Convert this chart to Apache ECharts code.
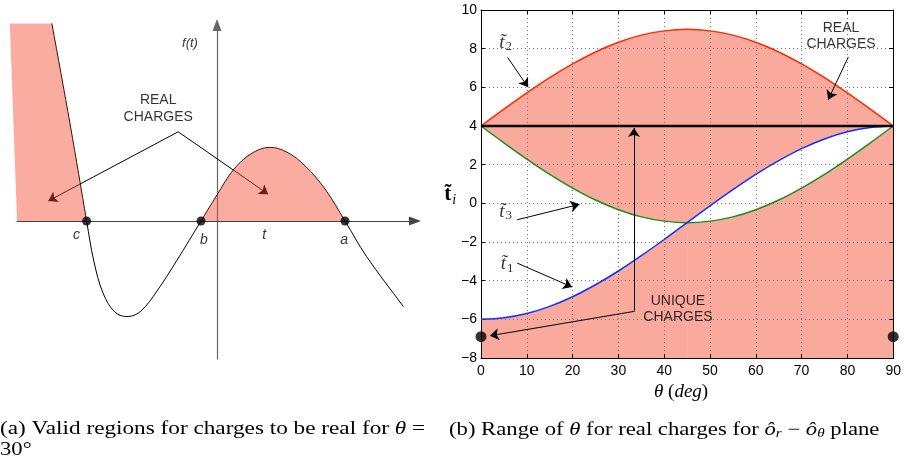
<!DOCTYPE html>
<html>
<head>
<meta charset="utf-8">
<script src="https://cdn.jsdelivr.net/npm/echarts@6/dist/echarts.min.js"></script>
<style>html,body{margin:0;padding:0;background:#fff}#c{width:904px;height:472px}</style>
</head>
<body>
<div id="c"></div>
<script>
// ---------- Panel (b) data ----------
const theta = [0, 5, 10, 15, 20, 25, 30, 35, 40, 45, 50, 55, 60, 65, 70, 75, 80, 85, 90];
const t1 = [-6.00, -5.92, -5.70, -5.33, -4.83, -4.21, -3.50, -2.71, -1.87, -1.00, -0.13, 0.71, 1.50, 2.21, 2.83, 3.33, 3.70, 3.92, 4.00];
const t2 = [4.00, 4.87, 5.71, 6.50, 7.21, 7.83, 8.33, 8.70, 8.92, 9.00, 8.92, 8.70, 8.33, 7.83, 7.21, 6.50, 5.71, 4.87, 4.00];
const t3 = [4.00, 3.13, 2.29, 1.50, 0.79, 0.17, -0.33, -0.70, -0.92, -1.00, -0.92, -0.70, -0.33, 0.17, 0.79, 1.50, 2.29, 3.13, 4.00];
const crossTheta = 45;
const uniqueLevel = 4;
const endDots = [[0, -6.9], [90, -6.9]];
const xTicks = [0, 10, 20, 30, 40, 50, 60, 70, 80, 90];
const yTicks = [-8, -6, -4, -2, 0, 2, 4, 6, 8, 10];

// ---------- Panel (a) data (schematic f(t)) ----------
const fCurve = [[-4.13, 4.94], [-3.9, 3.68], [-3.67, 2.4], [-3.46, 1.18], [-3.26, 0], [-3.08, -1.0], [-2.85, -1.8],
  [-2.55, -2.28], [-2.22, -2.39], [-1.9, -2.25], [-1.5, -1.75], [-1.0, -0.98], [-0.4, 0], [0, 0.65],
  [0.41, 1.28], [0.85, 1.68], [1.3, 1.84], [1.75, 1.72], [2.2, 1.38], [2.7, 0.8], [3.2, 0], [3.74, -0.89], [4.66, -2.14]];
const roots = [[-3.26, 0], [-0.4, 0], [3.2, 0]];
const leftFillCorners = [[-5.18, 4.94], [-5.0, 0]];

// ---------- annotations ----------
const SANS = 'Liberation Sans, Arial, Helvetica, sans-serif';
const SERIF = 'Liberation Serif, Times New Roman, serif';

const leftNotes = [
  {pos: [-0.675, 4.44], text: 'f(t)', style: 'ital13'},
  {pos: [-3.51, -0.35], text: 'c', style: 'ital'},
  {pos: [-0.33, -0.47], text: 'b', style: 'ital'},
  {pos: [1.18, -0.35], text: 't', style: 'ital'},
  {pos: [3.18, -0.47], text: 'a', style: 'ital'},
  {pos: [-1.47, 2.82], text: 'REAL\nCHARGES', style: 'caps'}
];
const leftArrows = [
  [[-0.97, 2.23], [-4.22, 0.5]],
  [[-0.97, 2.23], [1.28, 0.67]]
];
const rightNotes = [
  {pos: [5.4, 8.3], text: '{t|t\u0303}{s|2}'},
  {pos: [5.4, -0.45], text: '{t|t\u0303}{s|3}'},
  {pos: [5.7, -3.15], text: '{t|t\u0303}{s|1}'},
  {pos: [78.6, 8.65], text: '{c|REAL}\n{c|CHARGES}'},
  {pos: [43.0, -5.46], text: '{c|UNIQUE}\n{c|CHARGES}'}
];
const rightArrows = [
  [[5.8, 7.55], [10.3, 6.0]],
  [[80.2, 7.57], [75.8, 5.36]],
  [[7.9, -0.85], [21.5, -0.05]],
  [[7.9, -3.09], [19.9, -4.33]],
  [[33.4, -5.59], [33.4, 3.9]],
  [[33.4, -5.59], [1.95, -6.85]]
];

const PINK = '#F9AA9D';
const PINK_T = 'rgba(244,71,44,0.45)';

const pairs = (xs, ys) => xs.map((x, i) => [x, ys[i]]);
const iCross = theta.indexOf(crossTheta);
const before = arr => pairs(theta.slice(0, iCross + 1), arr.slice(0, iCross + 1));
const after = arr => pairs(theta.slice(iCross), arr.slice(iCross));

const iB = fCurve.findIndex(p => p[0] === roots[1][0]);
const iA = fCurve.findIndex(p => p[0] === roots[2][0]);
const iC = fCurve.findIndex(p => p[0] === roots[0][0]);

// smooth bezier through pixel points (zrender-style control points)
function controlPoints(P, s) {
  const n = P.length, cin = [], cout = [];
  for (let i = 0; i < n; i++) {
    const pr = P[Math.max(i - 1, 0)], nx = P[Math.min(i + 1, n - 1)], p = P[i];
    const vx = (nx[0] - pr[0]) * s, vy = (nx[1] - pr[1]) * s;
    const d0 = Math.hypot(p[0] - pr[0], p[1] - pr[1]), d1 = Math.hypot(nx[0] - p[0], nx[1] - p[1]);
    const sum = (d0 + d1) || 1;
    cin.push([p[0] - vx * d0 / sum, p[1] - vy * d0 / sum]);
    cout.push([p[0] + vx * d1 / sum, p[1] + vy * d1 / sum]);
  }
  return {cin, cout};
}
function segs(P, cp, i0, i1) {
  let d = '';
  for (let i = i0; i < i1; i++) {
    d += ' C' + cp.cout[i][0] + ',' + cp.cout[i][1] + ' ' + cp.cin[i + 1][0] + ',' + cp.cin[i + 1][1] + ' ' + P[i + 1][0] + ',' + P[i + 1][1];
  }
  return d;
}
const pt = p => p[0] + ',' + p[1];

function renderSchematic(params, api) {
  const P = fCurve.map(p => api.coord(p));
  const cp = controlPoints(P, 0.36);
  const k1 = api.coord(leftFillCorners[0]), k2 = api.coord(leftFillCorners[1]);
  const curvePath = 'M' + pt(P[0]) + segs(P, cp, 0, P.length - 1);
  const lobePath = 'M' + pt(P[iB]) + segs(P, cp, iB, iA) + ' Z';
  const leftPath = 'M' + pt(k1) + ' L' + pt(P[0]) + segs(P, cp, 0, iC) + ' L' + pt(k2) + ' Z';
  return {type: 'group', children: [
    {type: 'path', shape: {pathData: curvePath}, style: {fill: 'none', stroke: '#000', lineWidth: 1}},
    {type: 'path', shape: {pathData: lobePath}, style: {fill: PINK_T, stroke: 'none'}},
    {type: 'path', shape: {pathData: leftPath}, style: {fill: PINK_T, stroke: 'none'}}
  ]};
}

const SM = 0.35;
const areaSeries = (data, color, z) => ({
  type: 'line', xAxisIndex: 1, yAxisIndex: 1, data: data, smooth: SM, symbol: 'none',
  lineStyle: {width: 0, opacity: 0}, areaStyle: {color: color, opacity: 1, origin: 'start'}, z: z, silent: true
});
const curveSeries = (arr, color) => ({
  type: 'line', xAxisIndex: 1, yAxisIndex: 1, data: pairs(theta, arr), smooth: SM, symbol: 'none',
  lineStyle: {color: color, width: 1.5}, z: 4, silent: true
});

const arrowML = (list, z) => ({
  silent: true, symbol: ['none', 'arrow'], symbolSize: 9, z: z,
  lineStyle: {color: '#000', width: 1, type: 'solid'}, label: {show: false}, emphasis: {disabled: true},
  data: list.map(a => [{coord: a[0]}, {coord: a[1]}])
});

const fmtTick = v => String(v).replace('-', '\u2212');

const option = {
  animation: false,
  grid: [
    {left: 17, top: 25, width: 398, height: 334},
    {left: 481, top: 10, width: 416, height: 348}
  ],
  xAxis: [
    {gridIndex: 0, type: 'value', min: -5, max: 4.95, axisLine: {show: true, onZero: true, symbol: ['none', 'triangle'], symbolSize: [9, 12], lineStyle: {color: '#444', width: 1.2}},
      axisTick: {show: false}, axisLabel: {show: false}, splitLine: {show: false}},
    {gridIndex: 1, type: 'value', min: xTicks[0], max: xTicks[xTicks.length - 1], interval: 10, position: 'bottom', z: 2,
      axisLine: {onZero: false, lineStyle: {color: '#000', width: 1}},
      axisTick: {inside: true, length: 4, lineStyle: {color: '#000'}},
      axisLabel: {fontFamily: SANS, fontSize: 14, color: '#000', margin: 6},
      splitLine: {show: true, lineStyle: {color: '#777', width: 1, type: [1, 3]}},
      name: '{i|\u03b8}{n| (}{i|deg}{n|)}', nameLocation: 'middle', nameGap: 19,
      nameTextStyle: {padding: [0, 12, 0, 0], rich: {i: {fontFamily: SERIF, fontStyle: 'italic', fontSize: 19, color: '#000'}, n: {fontFamily: SERIF, fontSize: 19, color: '#000'}}}},
    {gridIndex: 1, type: 'value', min: 0, max: 90, interval: 10, position: 'top', z: 2,
      axisLine: {onZero: false, lineStyle: {color: '#000', width: 1}},
      axisTick: {inside: true, length: 4, lineStyle: {color: '#000'}}, axisLabel: {show: false}, splitLine: {show: false}}
  ],
  yAxis: [
    {gridIndex: 0, type: 'value', min: -3.45, max: 4.9, axisLine: {show: true, onZero: true, symbol: ['none', 'triangle'], symbolSize: [9, 12], lineStyle: {color: '#666', width: 1.2}},
      axisTick: {show: false}, axisLabel: {show: false}, splitLine: {show: false}},
    {gridIndex: 1, type: 'value', min: yTicks[0], max: yTicks[yTicks.length - 1], interval: 2, position: 'left', z: 2,
      axisLine: {onZero: false, lineStyle: {color: '#000', width: 1}},
      axisTick: {inside: true, length: 4, lineStyle: {color: '#000'}},
      axisLabel: {fontFamily: SANS, fontSize: 14, color: '#000', margin: 4, formatter: fmtTick},
      splitLine: {show: true, lineStyle: {color: '#777', width: 1, type: [1, 3]}},
      name: '{b|t\u0303}{i|i}', nameLocation: 'middle', nameRotate: 0, nameGap: 15,
      nameTextStyle: {padding: [22, 0, 0, 0], rich: {b: {fontFamily: SERIF, fontWeight: 'bold', fontSize: 21, color: '#000'}, i: {fontFamily: SERIF, fontStyle: 'italic', fontSize: 14, color: '#000', padding: [10, 0, 0, 1]}}}},
    {gridIndex: 1, type: 'value', min: -8, max: 10, interval: 2, position: 'right', z: 2,
      axisLine: {onZero: false, lineStyle: {color: '#000', width: 1}},
      axisTick: {inside: true, length: 4, lineStyle: {color: '#000'}}, axisLabel: {show: false}, splitLine: {show: false}}
  ],
  series: [
    // ---- panel (a) ----
    {type: 'custom', xAxisIndex: 0, yAxisIndex: 0, data: [[0, 0]], clip: false, z: 3, silent: true, renderItem: renderSchematic},
    {type: 'scatter', xAxisIndex: 0, yAxisIndex: 0, data: roots, symbolSize: 9, itemStyle: {color: '#000'}, z: 5, silent: true,
      markLine: arrowML(leftArrows, 2)},
    {type: 'scatter', xAxisIndex: 0, yAxisIndex: 0, symbolSize: 0, z: 6, silent: true,
      data: leftNotes.map(n => ({value: n.pos, label: {formatter: '{' + n.style + '|' + n.text.replace('\n', '}\n{' + n.style + '|') + '}'}})),
      label: {show: true, position: 'inside', rich: {
        ital: {fontFamily: SANS, fontStyle: 'italic', fontSize: 14, color: '#000'},
        ital13: {fontFamily: SANS, fontStyle: 'italic', fontSize: 13, color: '#000'},
        caps: {fontFamily: SANS, fontSize: 14, color: '#000', lineHeight: 17, align: 'center'}}}},
    // ---- panel (b) ----
    areaSeries(pairs(theta, t2), PINK, 1),
    areaSeries(before(t3), '#fff', 1.1),
    areaSeries(after(t1), '#fff', 1.1),
    areaSeries(before(t1), PINK, 1.2),
    areaSeries(after(t3), PINK, 1.2),
    curveSeries(t2, '#FF2A00'),
    curveSeries(t3, '#1E8C1E'),
    curveSeries(t1, '#1030FF'),
    {type: 'line', xAxisIndex: 1, yAxisIndex: 1, data: [[theta[0], uniqueLevel], [theta[theta.length - 1], uniqueLevel]], symbol: 'none',
      lineStyle: {color: '#000', width: 2.5}, z: 5, silent: true, markLine: arrowML(rightArrows, 5)},
    {type: 'scatter', xAxisIndex: 1, yAxisIndex: 1, data: endDots, symbolSize: 11, clip: false, itemStyle: {color: '#000'}, z: 6, silent: true},
    {type: 'scatter', xAxisIndex: 1, yAxisIndex: 1, symbolSize: 0, z: 7, silent: true, clip: false,
      data: rightNotes.map(n => ({value: n.pos, label: {formatter: n.text}})),
      label: {show: true, position: 'inside', rich: {
        t: {fontFamily: SERIF, fontStyle: 'italic', fontSize: 19, color: '#000'},
        s: {fontFamily: SERIF, fontSize: 13, color: '#000', padding: [8, 0, 0, 1]},
        c: {fontFamily: SANS, fontSize: 14, color: '#000', lineHeight: 16, align: 'center'}}}}
  ],
  graphic: [
    {type: 'text', x: 0, y: 420, scaleX: 1.29, silent: true,
      style: {text: '(a) Valid regions for charges to be real for {i|\u03b8} =', font: '18px ' + SERIF, fill: '#000',
        rich: {i: {font: 'italic 18px ' + SERIF, fill: '#000'}}}},
    {type: 'text', x: 0, y: 441, scaleX: 1.26, silent: true,
      style: {text: '30\u00b0', font: '18px ' + SERIF, fill: '#000'}},
    {type: 'text', x: 449, y: 420, scaleX: 1.26, silent: true,
      style: {text: '(b) Range of {i|\u03b8} for real charges for {i|\u00f4}{s|r} \u2212 {i|\u00f4}{s|\u03b8} plane', font: '18px ' + SERIF, fill: '#000',
        rich: {i: {font: 'italic 18px ' + SERIF, fill: '#000'}, s: {font: 'italic 12px ' + SERIF, fill: '#000', padding: [8, 0, 0, 0]}}}}
  ]
};

const chart = echarts.init(document.getElementById('c'));
chart.setOption(option);
</script>
</body>
</html>
